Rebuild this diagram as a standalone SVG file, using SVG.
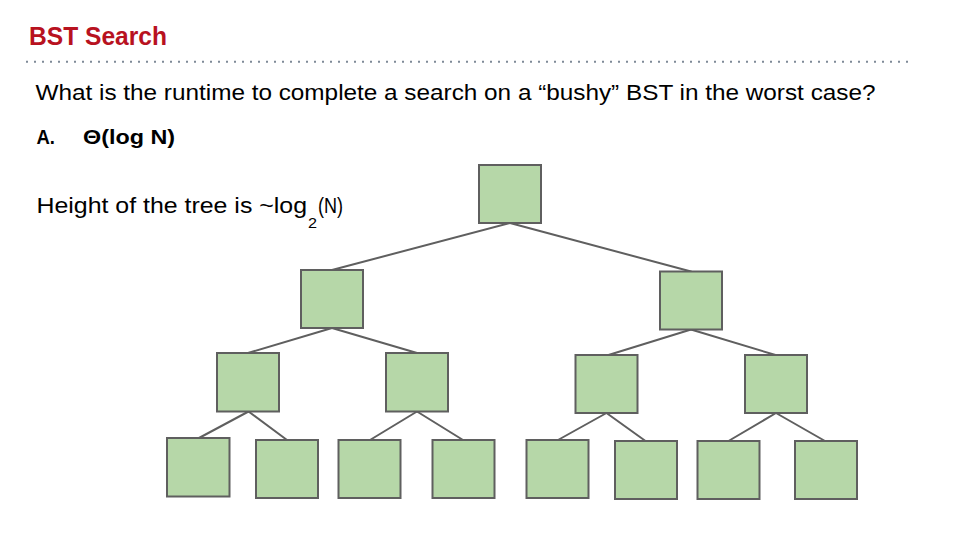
<svg xmlns="http://www.w3.org/2000/svg" width="960" height="537" viewBox="0 0 960 537">
<style>
.t{font-family:"Liberation Sans",Arial,sans-serif;fill:#000}
.b{font-weight:bold}
.node rect{fill:#b6d7a8;stroke:#5f5f5f;stroke-width:2}
.edges line{stroke:#5f5f5f;stroke-width:2;stroke-linecap:round}
</style>
<rect width="960" height="537" fill="#ffffff"/>
<text x="29" y="45" class="t b" font-size="26" style="fill:#b8121f" textLength="138" lengthAdjust="spacingAndGlyphs">BST Search</text>
<line x1="26" y1="61.7" x2="910" y2="61.7" stroke="#7f8a98" stroke-width="2" stroke-dasharray="2 6"/>
<text x="35.5" y="100" class="t" font-size="22" textLength="840" lengthAdjust="spacingAndGlyphs">What is the runtime to complete a search on a “bushy” BST in the worst case?</text>
<text x="36.5" y="144" class="t b" font-size="21" textLength="18.5" lengthAdjust="spacingAndGlyphs">A.</text>
<text x="83" y="144" class="t b" font-size="21" textLength="92" lengthAdjust="spacingAndGlyphs">Θ(log N)</text>
<text x="36.5" y="213" class="t" font-size="22" textLength="270.5" lengthAdjust="spacingAndGlyphs">Height of the tree is ~log</text>
<text x="308" y="227.5" class="t" font-size="15" textLength="9" lengthAdjust="spacingAndGlyphs">2</text>
<text x="318" y="213" class="t" font-size="22" textLength="25" lengthAdjust="spacingAndGlyphs">(N)</text>
<g class="edges" id="connectors">
<line x1="510" y1="223" x2="332" y2="270"/>
<line x1="510" y1="223" x2="691" y2="271.5"/>
<line x1="332" y1="328" x2="248" y2="353"/>
<line x1="332" y1="328" x2="417" y2="353"/>
<line x1="691" y1="329.5" x2="608.5" y2="355"/>
<line x1="691" y1="329.5" x2="775.5" y2="355"/>
<line x1="248.5" y1="411.5" x2="199" y2="438"/>
<line x1="248.5" y1="411.5" x2="287" y2="440"/>
<line x1="417" y1="411.5" x2="370" y2="440"/>
<line x1="417" y1="411.5" x2="463" y2="440"/>
<line x1="606.5" y1="413" x2="558" y2="440"/>
<line x1="606.5" y1="413" x2="645.5" y2="441"/>
<line x1="776" y1="413" x2="728.5" y2="441"/>
<line x1="776" y1="413" x2="825" y2="441"/>
</g>
<g class="node" id="n-root"><rect x="479" y="165" width="62" height="58"/></g>
<g class="node" id="n-l"><rect x="301" y="270" width="62" height="58"/></g>
<g class="node" id="n-r"><rect x="660" y="271.5" width="62" height="58"/></g>
<g class="node" id="n-ll"><rect x="217" y="353" width="62" height="58.5"/></g>
<g class="node" id="n-lr"><rect x="386" y="353" width="62" height="58.5"/></g>
<g class="node" id="n-rl"><rect x="575.5" y="355" width="62" height="58"/></g>
<g class="node" id="n-rr"><rect x="745" y="355" width="62" height="58"/></g>
<g class="node" id="n-lll"><rect x="167" y="438" width="62.5" height="58.5"/></g>
<g class="node" id="n-llr"><rect x="256" y="440" width="62" height="58"/></g>
<g class="node" id="n-lrl"><rect x="338.5" y="440" width="62" height="58"/></g>
<g class="node" id="n-lrr"><rect x="432.5" y="440" width="62" height="58"/></g>
<g class="node" id="n-rll"><rect x="526.5" y="440" width="62" height="58"/></g>
<g class="node" id="n-rlr"><rect x="615" y="441" width="62" height="58"/></g>
<g class="node" id="n-rrl"><rect x="697.5" y="441" width="62" height="58"/></g>
<g class="node" id="n-rrr"><rect x="795" y="441" width="62" height="58"/></g>
</svg>
